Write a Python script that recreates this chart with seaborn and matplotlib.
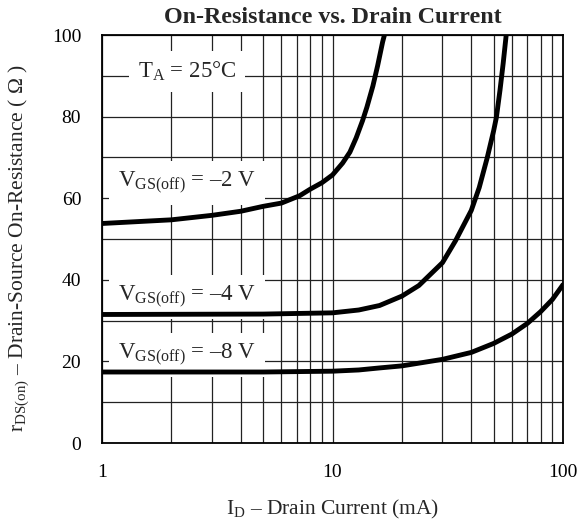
import matplotlib
matplotlib.use("Agg")
import matplotlib.pyplot as plt
import seaborn as sns
import pandas as pd
from matplotlib.ticker import FixedLocator, NullFormatter, FixedFormatter

# ---- data ----
I_2 = [1, 2, 3, 4, 5, 6, 7.2, 8, 9, 10, 11.06, 11.9, 12.67, 13.5, 14.1, 14.97, 15.7, 16.5, 16.8]
R_2 = [53.8, 54.7, 55.8, 56.8, 58.0, 58.8, 60.6, 62.2, 63.8, 65.7, 68.6, 71.3, 74.8, 79.0, 82.3, 87.5, 92.5, 98.3, 100]

I_4 = [1, 5, 10, 13, 16, 20, 23.7, 30, 34.2, 40, 43.3, 46.9, 50, 51.4, 53.3, 55, 56.7]
R_4 = [31.5, 31.6, 31.9, 32.6, 33.7, 36.0, 38.6, 44.2, 49.6, 57.0, 62.6, 69.9, 76.5, 79.8, 86.5, 93.0, 100]

I_8 = [1, 5, 10, 13, 16, 20, 30, 40, 50, 60, 70, 80, 90, 100]
R_8 = [17.4, 17.4, 17.6, 17.9, 18.4, 18.9, 20.5, 22.2, 24.4, 26.7, 29.3, 32.2, 35.2, 38.8]

x_major = [1, 10, 100]
x_labels = ["1", "10", "100"]
y_ticks = [0, 20, 40, 60, 80, 100]

labels = ["V$_{\\mathrm{GS(off)}}$ = \u20132 V",
          "V$_{\\mathrm{GS(off)}}$ = \u20134 V",
          "V$_{\\mathrm{GS(off)}}$ = \u20138 V"]
label_pos = [(1.17, 62.7), (1.17, 34.8), (1.17, 20.6)]

sns.set_style("white")
plt.rcParams["font.family"] = ["Liberation Serif", "DejaVu Serif"]
plt.rcParams["mathtext.fontset"] = "custom"
plt.rcParams["mathtext.rm"] = "Liberation Serif"
plt.rcParams["mathtext.it"] = "Liberation Serif:italic"
plt.rcParams["mathtext.bf"] = "Liberation Serif:bold"

fig = plt.figure(figsize=(5.88, 5.27), dpi=100)
ax = fig.add_axes([102/588, 1-443/527, (563-102)/588, (443-35)/527])

df = pd.concat([
    pd.DataFrame({"I": I_2, "R": R_2, "curve": "m2"}),
    pd.DataFrame({"I": I_4, "R": R_4, "curve": "m4"}),
    pd.DataFrame({"I": I_8, "R": R_8, "curve": "m8"}),
])

ax.set_xscale("log")
ax.set_xlim(1, 100)
ax.set_ylim(0, 100)

# grid
minor = [m * d for d in (1, 10) for m in range(2, 10)]
ax.xaxis.set_major_locator(FixedLocator(x_major))
ax.xaxis.set_major_formatter(FixedFormatter(x_labels))
ax.xaxis.set_minor_locator(FixedLocator(minor))
ax.xaxis.set_minor_formatter(NullFormatter())
ax.yaxis.set_major_locator(FixedLocator(y_ticks))
ax.yaxis.set_minor_locator(FixedLocator(list(range(10, 100, 20))))
ax.grid(True, which="both", color="#222222", linewidth=0.9, zorder=1)
ax.set_axisbelow(True)

sns.lineplot(data=df, x="I", y="R", units="curve", estimator=None, sort=False,
             color="black", linewidth=3.5, ax=ax, zorder=3)

for s in ax.spines.values():
    s.set_color("black")
    s.set_linewidth(1.3)

ax.tick_params(axis="both", which="both", length=0, labelsize=14, pad=15, colors="black")

for txt, (x, y) in zip(labels, label_pos):
    ax.text(x, y, txt, fontsize=16.5, va="baseline", ha="left", zorder=2,
            bbox=dict(boxstyle="square,pad=0.4", facecolor="white", edgecolor="none"))

ax.text(1.43, 89.5, "T$_{\\mathrm{A}}$ = 25\u00b0C", fontsize=16.5, va="baseline", ha="left", zorder=2,
        bbox=dict(boxstyle="square,pad=0.4", facecolor="white", edgecolor="none"))

ax.set_title("On-Resistance vs. Drain Current", fontsize=17.3, fontweight="bold", pad=8.5)
ax.set_xlabel("I$_{\\mathrm{D}}$ \u2013 Drain Current (mA)", fontsize=15.5, labelpad=12)
ax.set_ylabel("r$_{\\mathrm{DS(on)}}$ \u2013 Drain-Source On-Resistance ( \u03a9 )", fontsize=15.5)
ax.yaxis.set_label_coords(-0.154, 0.478)

fig.savefig("out.png", dpi=100)
